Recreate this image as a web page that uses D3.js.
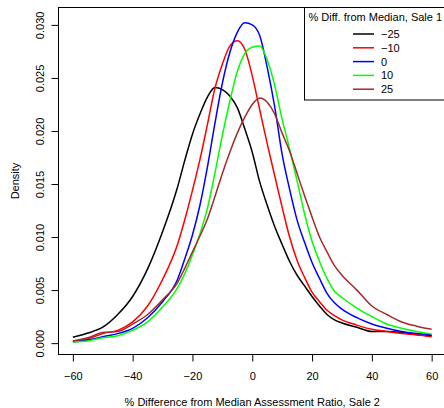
<!DOCTYPE html>
<html>
<head>
<meta charset="utf-8">
<script src="https://cdn.jsdelivr.net/npm/d3@7"></script>
<style>
  body { margin: 0; background: #fff; }
  svg text { font-family: "Liberation Sans", Arial, Helvetica, sans-serif; fill: #000; }
</style>
</head>
<body>
<svg id="chart" width="444" height="408"></svg>
<script>
// % difference from median assessment ratio, sale 2 (shared x grid)
const xGrid = [-60, -55, -50, -45, -40, -35, -30, -25, -22.5, -20, -17.5, -15, -12.5, -10, -7.5, -5, -2.5,
  0, 2.5, 5, 7.5, 10, 12.5, 15, 17.5, 20, 22.5, 25, 27.5, 30, 35, 40, 45, 50, 55, 60]

// density for each sale-1 group
const densM25 = [0.00055, 0.00095, 0.0015, 0.0027, 0.0044, 0.0070, 0.0105, 0.0147, 0.0173, 0.0197, 0.0216, 0.0232, 0.0241, 0.0239, 0.0233, 0.0222, 0.0202,
  0.0180, 0.0152, 0.0130, 0.0110, 0.0093, 0.0077, 0.0064, 0.0054, 0.0044, 0.0035, 0.0027, 0.0022, 0.0019, 0.0015, 0.0011, 0.0011, 0.0010, 0.0008, 0.0007]
const densM10 = [0.0002, 0.0004, 0.0009, 0.0012, 0.0020, 0.0035, 0.0060, 0.0093, 0.0117, 0.0144, 0.0173, 0.0206, 0.0240, 0.0263, 0.0280, 0.0285, 0.0277,
  0.0252, 0.0220, 0.0188, 0.0158, 0.0128, 0.0100, 0.0078, 0.0062, 0.0048, 0.0039, 0.0031, 0.0026, 0.0022, 0.0017, 0.0013, 0.0011, 0.0009, 0.0008, 0.0006]
const dens0 = [0.00012, 0.0003, 0.0006, 0.0009, 0.0014, 0.0024, 0.0039, 0.0060, 0.0080, 0.0102, 0.0130, 0.0166, 0.0207, 0.0245, 0.0274, 0.0293, 0.0302,
  0.0300, 0.0290, 0.0260, 0.0223, 0.0178, 0.0145, 0.0116, 0.0095, 0.0076, 0.0061, 0.0047, 0.0038, 0.0032, 0.0024, 0.0018, 0.0014, 0.0011, 0.0009, 0.0008]
const dens10 = [0.0001, 0.0002, 0.0005, 0.0007, 0.0012, 0.0020, 0.0034, 0.0052, 0.0066, 0.0083, 0.0103, 0.0127, 0.0160, 0.0196, 0.0228, 0.0256, 0.0273,
  0.0279, 0.0280, 0.0267, 0.0243, 0.0211, 0.0183, 0.0153, 0.0122, 0.0096, 0.0077, 0.0061, 0.0049, 0.0043, 0.0033, 0.0025, 0.0018, 0.0014, 0.0011, 0.00085]
const dens25 = [0.0002, 0.0005, 0.0010, 0.0011, 0.0018, 0.0027, 0.0041, 0.0057, 0.0071, 0.0086, 0.0101, 0.0117, 0.0138, 0.0160, 0.0180, 0.0198, 0.0213,
  0.0225, 0.0231, 0.0227, 0.0216, 0.0198, 0.0181, 0.0160, 0.0139, 0.0119, 0.0100, 0.0086, 0.0073, 0.0064, 0.0050, 0.0035, 0.0027, 0.0020, 0.0016, 0.0013]

const groupLabels = ["\u221225", "\u221210", "0", "10", "25"]
const groupColors = ["#000000", "#ff0000", "#0000ff", "#00ff00", "#a52a2a"]
const xTicks = [-60, -40, -20, 0, 20, 40, 60]
const yTicks = [0, 0.005, 0.010, 0.015, 0.020, 0.025, 0.030]

const series = [densM25, densM10, dens0, dens10, dens25]

let svg = d3.select("#chart")

// plot region (R style, right edge runs just past the window)
let plotL = 58.5, plotT = 7.5, plotR = 446, plotB = 354.5

let x = d3.scaleLinear().domain([-64.8, 64.8]).range([plotL, plotR])
let y = d3.scaleLinear().domain([-0.00107, 0.03164]).range([plotB, plotT])

let line = d3.line()
  .x((d) => x(d[0]))
  .y((d) => y(d[1]))
  .curve(d3.curveMonotoneX)

svg.selectAll("path.dens")
  .data(series)
  .enter()
  .append("path")
  .attr("class", "dens")
  .attr("d", (s) => line(xGrid.map((v, i) => [v, s[i]])))
  .attr("fill", "none")
  .attr("stroke", (s, i) => groupColors[i])
  .attr("stroke-width", 1.5)

// box
svg.append("rect")
  .attr("x", plotL).attr("y", plotT)
  .attr("width", plotR - plotL).attr("height", plotB - plotT)
  .attr("fill", "none").attr("stroke", "#000").attr("stroke-width", 1)

// x axis
let xAxis = d3.axisBottom(x).tickValues(xTicks).tickSize(7).tickSizeOuter(0)
  .tickFormat((d) => d < 0 ? "\u2212" + Math.abs(d) : d)
let gx = svg.append("g").attr("transform", "translate(0," + plotB + ")").call(xAxis)
gx.select(".domain").remove()
gx.selectAll("text").attr("font-size", 11).attr("dy", null).attr("y", 25)
gx.selectAll("line").attr("stroke", "#000")

// y axis
let yAxis = d3.axisLeft(y).tickValues(yTicks).tickSize(7).tickSizeOuter(0)
  .tickFormat(d3.format(".3f"))
let gy = svg.append("g").attr("transform", "translate(" + plotL + ",0)").call(yAxis)
gy.select(".domain").remove()
gy.selectAll("line").attr("stroke", "#000")
gy.selectAll("text")
  .attr("font-size", 11)
  .attr("x", null).attr("dy", null)
  .attr("text-anchor", "middle")
  .attr("transform", "translate(-15,0) rotate(-90)")
  .attr("y", 0)

// axis titles
svg.append("text")
  .attr("x", x(0)).attr("y", 406)
  .attr("text-anchor", "middle")
  .attr("font-size", 11)
  .text("% Difference from Median Assessment Ratio, Sale 2")

svg.append("text")
  .attr("transform", "translate(19," + ((plotT + plotB) / 2) + ") rotate(-90)")
  .attr("text-anchor", "middle")
  .attr("font-size", 11)
  .text("Density")

// legend
let legX = 304.5, legY = plotT, legW = plotR - 304.5, legH = 92.5
svg.append("rect")
  .attr("x", legX).attr("y", legY).attr("width", legW).attr("height", legH)
  .attr("fill", "#fff").attr("stroke", "#000").attr("stroke-width", 1)

svg.append("text")
  .attr("x", legX + legW / 2).attr("y", 21)
  .attr("text-anchor", "middle")
  .attr("font-size", 11)
  .text("% Diff. from Median, Sale 1")

let items = svg.selectAll("g.leg")
  .data(groupLabels)
  .enter()
  .append("g")
  .attr("class", "leg")
  .attr("transform", (d, i) => "translate(0," + (34 + i * 13.8) + ")")

items.append("line")
  .attr("x1", 353).attr("x2", 374)
  .attr("y1", 0).attr("y2", 0)
  .attr("stroke", (d, i) => groupColors[i])
  .attr("stroke-width", 1.5)

items.append("text")
  .attr("x", 381).attr("y", 4)
  .attr("font-size", 11)
  .text((d) => d)
</script>
</body>
</html>
